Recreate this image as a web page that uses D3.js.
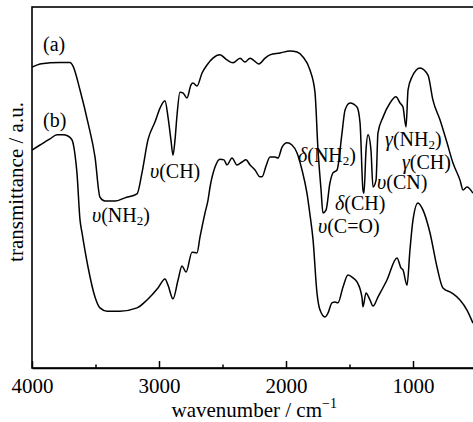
<!DOCTYPE html>
<html>
<head>
<meta charset="utf-8">
<script src="https://cdn.jsdelivr.net/npm/d3@7"></script>
<style>
  body { margin: 0; background: #fff; }
</style>
</head>
<body>
<div id="ir_plot_div"></div>
<script>
// wavenumber (cm-1) and transmittance (a.u.)
var wn_a = [4000,3937,3858,3780,3701,3677,3622,3559,3504,3465,3425,3346,3268,3173,3134,3087,3031,2992,2953,2929,2906,2890,2874,2858,2835,2811,2780,2748,2732,2701,2661,2622,2575,2520,2465,2417,2362,2323,2283,2213,2165,2126,2047,1969,1913,1866,1811,1772,1748,1724,1709,1685,1654,1630,1598,1559,1535,1496,1441,1417,1394,1386,1370,1354,1331,1315,1291,1276,1236,1181,1134,1102,1079,1055,1039,1008,945,882,843,787,732,685,630,606,575,528];
var t_a = [83.1,84.0,84.3,84.4,84.4,83.4,76.8,67.7,58.3,47.2,46.1,46.1,47.0,48.1,53.9,63.0,68.0,71.8,73.8,69.3,63.0,58.8,63.0,69.9,76.2,76.0,74.6,78.2,78.7,77.9,81.5,83.7,85.6,86.5,85.1,84.3,85.6,84.5,85.6,84.0,85.6,86.5,87.0,87.6,87.3,85.9,82.3,76.2,60.2,49.2,42.8,43.6,51.1,53.9,54.7,64.9,71.3,73.2,72.1,67.7,49.2,48.3,60.2,64.4,60.2,50.0,51.9,64.9,69.3,73.2,74.9,73.2,72.1,66.6,76.8,80.4,82.9,80.9,74.0,68.5,62.2,56.6,51.9,49.2,50.0,48.3];

var wn_b = [4000,3937,3858,3803,3756,3717,3685,3661,3646,3622,3606,3559,3504,3465,3409,3307,3173,3094,3008,2953,2929,2890,2850,2819,2787,2740,2701,2677,2638,2614,2598,2559,2520,2488,2465,2425,2386,2346,2315,2283,2244,2205,2189,2157,2126,2087,2063,2031,1992,1953,1913,1874,1835,1811,1787,1756,1732,1693,1669,1638,1614,1591,1551,1512,1472,1441,1402,1394,1370,1339,1315,1276,1205,1126,1094,1079,1047,1024,1000,961,921,866,811,764,693,630,575,528];
var t_b = [60.2,61.6,63.3,64.4,64.4,64.1,63.0,58.8,53.9,40.9,37.3,27.9,19.6,16.6,15.7,15.7,16.6,18.8,22.1,24.6,22.9,19.1,24.3,28.2,26.5,32.0,31.8,36.2,42.8,46.4,50.0,55.5,57.7,57.5,56.1,58.0,56.1,56.9,57.5,56.1,54.7,52.8,52.8,55.8,58.3,58.3,58.0,61.0,62.2,61.6,59.4,54.7,48.3,42.3,35.4,20.7,16.0,14.1,15.2,18.0,18.2,18.0,22.4,25.7,24.9,23.8,19.6,16.9,20.7,18.8,17.1,19.6,24.3,30.4,27.6,27.1,22.9,32.6,40.9,45.6,43.6,37.3,27.9,22.1,20.7,18.8,16.0,12.4];

var major_ticks = [4000, 3000, 2000, 1000];
var minor_ticks = [3500, 2500, 1500];

// band assignments, anchored at [wavenumber, transmittance] of the text start
var band_labels = [
  {pos: [3913, 87.6], parts: [["(a)"]]},
  {pos: [3913, 66.7], parts: [["(b)"]]},
  {pos: [3071, 52.5], parts: [["\u03c5", "it"], ["(CH)"]]},
  {pos: [3528, 40.3], parts: [["\u03c5", "it"], ["(NH"], ["2", "sub"], [")"]]},
  {pos: [1906, 56.9], parts: [["\u03b4", "it"], ["(NH"], ["2", "sub"], [")"]]},
  {pos: [1614, 43.6], parts: [["\u03b4", "it"], ["(CH)"]]},
  {pos: [1748, 37.3], parts: [["\u03c5", "it"], ["(C=O)"]]},
  {pos: [1283, 49.4], parts: [["\u03c5", "it"], ["(CN)"]]},
  {pos: [1220, 61.3], parts: [["\u03b3", "it"], ["(NH"], ["2", "sub"], [")"]]},
  {pos: [1087, 55.0], parts: [["\u03b3", "it"], ["(CH)"]]}
];

var serif = "'Liberation Serif', 'Times New Roman', serif";
var w = 473, h = 422;
var margin = {left: 32, top: 7, bottom: 54};

var svg = d3.select("#ir_plot_div")
  .append("svg")
  .attr("width", w)
  .attr("height", h);

var xScale = d3.scaleLinear()
  .domain([4000, 500])
  .range([margin.left, 476.5]);
var yScale = d3.scaleLinear()
  .domain([0, 100])
  .range([h - margin.bottom, h - margin.bottom - 362]);

// frame (right side runs off the picture)
svg.append("rect")
  .attr("x", margin.left)
  .attr("y", margin.top)
  .attr("width", 476.5 - margin.left)
  .attr("height", h - margin.bottom - margin.top)
  .attr("fill", "none")
  .attr("stroke", "#000")
  .attr("stroke-width", 1.6);

var line = d3.line()
  .x(function(d) { return xScale(d[0]); })
  .y(function(d) { return yScale(d[1]); })
  .curve(d3.curveMonotoneX);

var series = [d3.zip(wn_a, t_a), d3.zip(wn_b, t_b)];
svg.selectAll(".spectrum").data(series).enter()
  .append("path")
  .attr("class", "spectrum")
  .attr("d", function(d) { return line(d.slice().reverse()); })
  .attr("fill", "none")
  .attr("stroke", "#000")
  .attr("stroke-width", 1.5)
  .attr("stroke-linejoin", "round");

// x axis, ticks point inward
var xAxis = d3.axisBottom(xScale)
  .tickValues(major_ticks)
  .tickSizeInner(-7)
  .tickSizeOuter(0)
  .tickPadding(10)
  .tickFormat(d3.format("d"));
var gx = svg.append("g")
  .attr("class", "x_axis")
  .attr("transform", "translate(0," + (h - margin.bottom) + ")")
  .call(xAxis);
gx.select(".domain").attr("stroke-width", 1.6);
gx.selectAll(".tick line").attr("stroke-width", 1.5);
gx.selectAll("text")
  .style("font-family", serif)
  .style("font-size", "21px")
  .attr("fill", "#000");

svg.append("g")
  .attr("transform", "translate(0," + (h - margin.bottom) + ")")
  .call(d3.axisBottom(xScale).tickValues(minor_ticks).tickSizeInner(-3.5).tickSizeOuter(0).tickFormat(""))
  .call(function(g) { g.select(".domain").remove(); })
  .selectAll(".tick line").attr("stroke-width", 1.5);

// axis titles
var xTitle = svg.append("text")
  .attr("x", (margin.left + 476.5) / 2)
  .attr("y", 417)
  .attr("text-anchor", "middle")
  .style("font-family", serif)
  .style("font-size", "21px")
  .text("wavenumber / cm");
xTitle.append("tspan")
  .attr("dy", -9)
  .style("font-size", "14px")
  .text("\u22121");

svg.append("text")
  .attr("transform", "translate(23," + 182 + ") rotate(-90)")
  .attr("text-anchor", "middle")
  .style("font-family", serif)
  .style("font-size", "21px")
  .text("transmittance / a.u.");

// band labels
band_labels.forEach(function(lb) {
  var t = svg.append("text")
    .attr("x", xScale(lb.pos[0]))
    .attr("y", yScale(lb.pos[1]))
    .style("font-family", serif)
    .style("font-size", "20px");
  var shifted = false;
  lb.parts.forEach(function(p) {
    var s = t.append("tspan").text(p[0]);
    if (p[1] === "it") s.style("font-style", "italic");
    if (p[1] === "sub") {
      s.style("font-size", "13px").attr("dy", 3);
      shifted = true;
    } else if (shifted) {
      s.attr("dy", -3);
      shifted = false;
    }
  });
});
</script>
</body>
</html>
